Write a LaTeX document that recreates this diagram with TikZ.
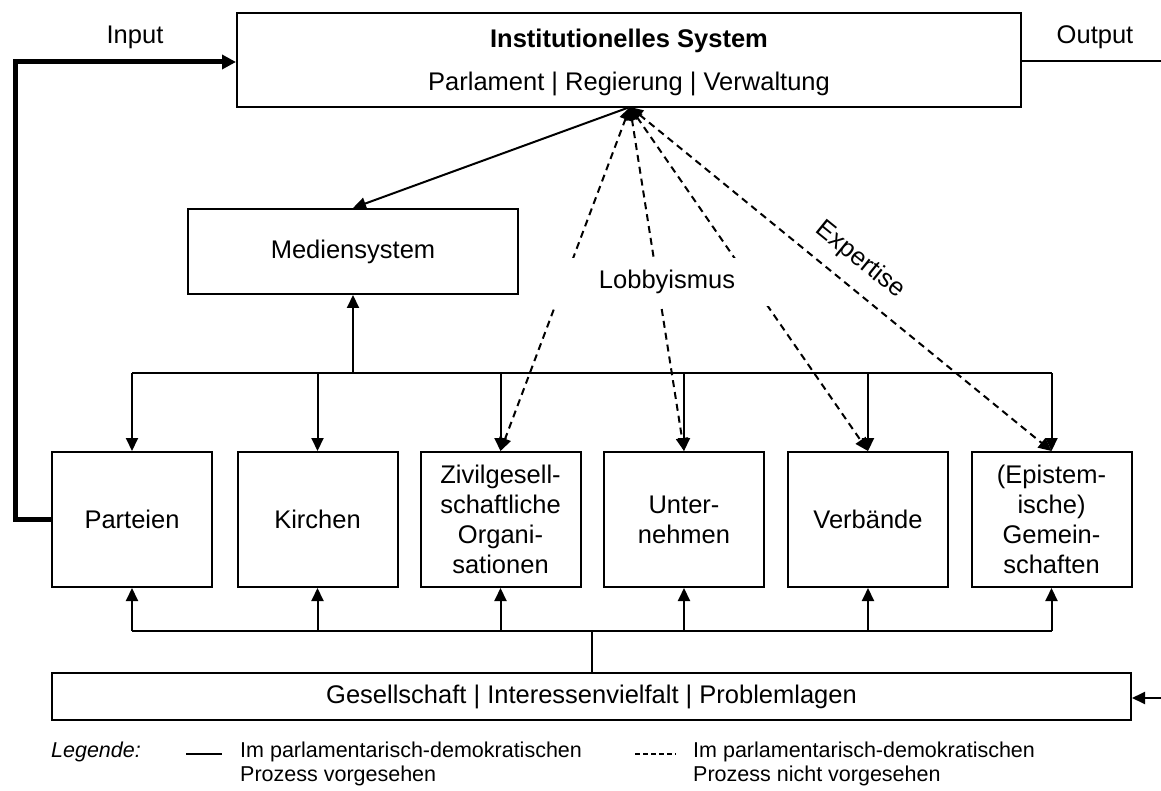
\documentclass[tikz,border=0pt]{standalone}
\usepackage{fontspec}
\setmainfont{Liberation Sans}
\usetikzlibrary{arrows.meta}
\begin{document}
\begin{tikzpicture}[x=1pt,y=-1pt,
  txt/.style={font=\fontsize{25.5}{30}\selectfont},
  box/.style={draw,line width=2pt,minimum width=160pt,minimum height=135pt,align=center,inner sep=0pt,txt},
  ln/.style={line width=2pt},
  tip/.style={-{Triangle[length=13pt,width=12pt]}},
  arr/.style={ln,tip},
  dsh/.style={ln,dash pattern=on 7pt off 5pt,{Triangle[length=13pt,width=12pt]}-{Triangle[length=13pt,width=12pt]}},
  lbl/.style={txt,inner sep=0pt},
  leg/.style={font=\fontsize{21.5}{24}\selectfont,inner sep=0pt,align=left},
]
\useasboundingbox (0,0) rectangle (1161,791);

% boxes
\node[draw,line width=2pt,minimum width=784pt,minimum height=94pt,inner sep=0pt] (top) at (629,60) {};
\node[lbl,font=\fontsize{25.5}{30}\selectfont\bfseries] (toptitle) at (629,41) {Institutionelles System};
\node[lbl] (topsub) at (629,84) {Parlament | Regierung | Verwaltung};

\node[box,minimum width=330pt,minimum height=85pt] (medien) at (353,251.5) {Mediensystem};

\node[box] (parteien) at (132,519.5) {Parteien};
\node[box] (kirchen) at (317.5,519.5) {Kirchen};
\node[box] (zivil) at (500.5,519.5) {Zivilgesell-\\schaftliche\\Organi-\\sationen};
\node[box] (unter) at (684,519.5) {Unter-\\nehmen};
\node[box] (verb) at (868,519.5) {Verbände};
\node[box] (gemein) at (1051.5,519.5) {(Epistem-\\ische)\\Gemein-\\schaften};

\node[draw,line width=2pt,minimum width=1079pt,minimum height=47pt,inner sep=0pt,txt] (gesell) at (591.5,696.5) {Gesellschaft | Interessenvielfalt | Problemlagen};

% labels
\node[lbl] (input) at (135,37) {Input};
\node[lbl] (output) at (1095,37) {Output};

% coordinates
\coordinate (conv) at (630,107);
\coordinate (inL) at (15,62);
\coordinate (outR) at (1161,61);
\coordinate (gesR) at (1161,698);
\coordinate (busT) at (0,373);
\coordinate (busB) at (0,631);

% input / output
\draw[line width=5pt,line join=miter,-{Triangle[length=14pt,width=14pt]}] (parteien.west) -| (inL) -- (inL -| top.west);
\draw[ln] (outR -| top.east) -- (outR);
\draw[arr] (gesR) -- (gesR -| gesell.east);

% top bus
\draw[ln] (parteien.north |- busT) -- (gemein.north |- busT);
\draw[arr] (medien.south |- busT) -- (medien.south);
\foreach \n in {parteien,kirchen,zivil,unter,verb,gemein}
  \draw[arr] (\n.north |- busT) -- (\n.north);

% bottom bus
\draw[ln] (parteien.south |- busB) -- (gemein.south |- busB);
\draw[ln] (gesell.north) -- (gesell.north |- busB);
\foreach \n in {parteien,kirchen,zivil,unter,verb,gemein}
  \draw[arr] (\n.south |- busB) -- (\n.south);

% media arrow
\draw[arr] (conv) -- (medien.north);

% dashed lobbying lines
\foreach \n in {zivil,unter,verb,gemein}
  \draw[dsh] (conv) -- (\n.north);

\node[lbl,fill=white,minimum width=245pt,minimum height=48pt] (lobby) at (667,282) {Lobbyismus};
\node[lbl,rotate=-39] (expert) at (860,260) {Expertise};

% legend
\node[leg,font=\fontsize{21.5}{24}\selectfont\itshape] (legende) at (96,752) {Legende:};
\coordinate (ls1) at (186,754);
\coordinate (ls2) at (222,754);
\draw[ln] (ls1) -- (ls2);
\node[leg,anchor=west] (leg1) at (240,764) {Im parlamentarisch-demokratischen\\Prozess vorgesehen};
\coordinate (ld1) at (635,754);
\coordinate (ld2) at (676,754);
\draw[ln,dash pattern=on 5pt off 3pt] (ld1) -- (ld2);
\node[leg,anchor=west] (leg2) at (693,764) {Im parlamentarisch-demokratischen\\Prozess nicht vorgesehen};
\end{tikzpicture}
\end{document}
